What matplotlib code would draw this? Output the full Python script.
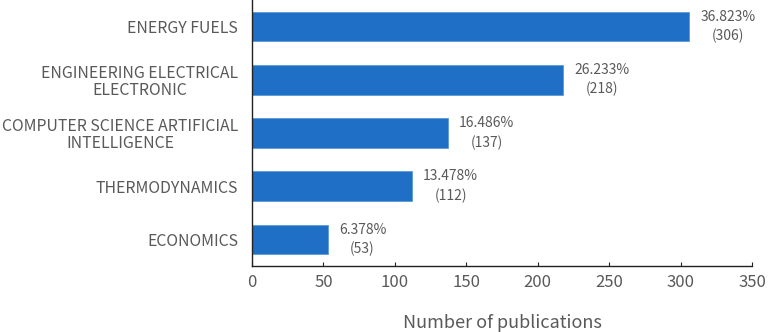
import matplotlib.pyplot as plt

plt.rcParams['font.family'] = ['Noto Sans CJK SC', 'DejaVu Sans']

# data (top to bottom as shown)
categories = ["ENERGY FUELS",
              "ENGINEERING ELECTRICAL\nELECTRONIC",
              "COMPUTER SCIENCE ARTIFICIAL\nINTELLIGENCE",
              "THERMODYNAMICS",
              "ECONOMICS"]
counts = [306, 218, 137, 112, 53]
percents = ["36.823%", "26.233%", "16.486%", "13.478%", "6.378%"]
x_ticks = [0, 50, 100, 150, 200, 250, 300, 350]

TEXT = "#595959"
BAR = "#1F6FC6"

fig = plt.figure(figsize=(7.82, 3.32), dpi=100)
ax = fig.add_axes([252 / 782, 1 - 266 / 332, 500 / 782, 266 / 332])

ypos = list(range(len(categories)))[::-1]
ax.barh(ypos, counts, height=0.56, color=BAR, edgecolor="#5B9BD5", linewidth=0.6)

for y, c, p in zip(ypos, counts, percents):
    ax.annotate(f"{p}\n({c})", (c, y), xytext=(8, 0), textcoords="offset points",
                ha="left", va="center", multialignment="center",
                fontsize=10, color=TEXT, linespacing=1.45)

ax.set_xlim(0, 350)
ax.set_ylim(-0.5, 4.5)
ax.set_xticks(x_ticks)
ax.set_yticks(ypos)
ax.set_yticklabels(categories, multialignment="center", linespacing=1.0)

for s in ["top", "right"]:
    ax.spines[s].set_visible(False)
for s in ["left", "bottom"]:
    ax.spines[s].set_color("#222222")
    ax.spines[s].set_linewidth(1.0)

ax.tick_params(axis="y", length=0, pad=10, labelsize=11.4, labelcolor=TEXT)
ax.tick_params(axis="x", direction="in", length=3, pad=6, labelsize=12,
               labelcolor=TEXT, color="#222222")
ax.set_xlabel("Number of publications", fontsize=13, color=TEXT, labelpad=16)

fig.savefig("out.png", dpi=100)
